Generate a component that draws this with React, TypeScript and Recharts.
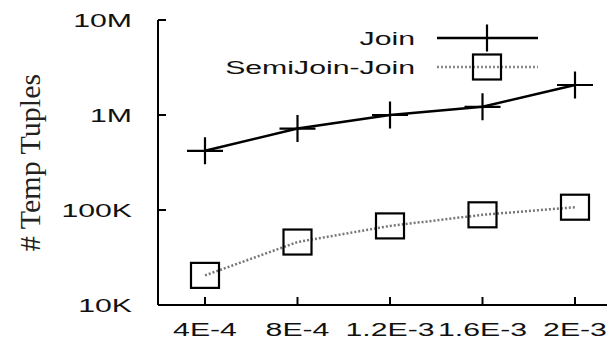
import { LineChart, Line, XAxis, YAxis } from "recharts";

// selectivity values on the x axis
const categories = ["4E-4", "8E-4", "1.2E-3", "1.6E-3", "2E-3"];
// # temp tuples
const joinValues = [420000, 720000, 1000000, 1220000, 2070000];
const semiJoinValues = [20500, 46000, 68000, 89000, 107000];
const yTicks = [10000, 100000, 1000000, 10000000];
const yTickLabels = ["10K", "100K", "1M", "10M"];
const seriesNames = ["Join", "SemiJoin-Join"];

const data = categories.map((c, i) => ({
  x: c,
  join: joinValues[i],
  semi: semiJoinValues[i],
}));

const FONT = "'Liberation Sans', Arial, Helvetica, sans-serif";
const STRETCH = 1.68; // the glyphs in the picture are wide, gnuplot style

function WideText({ x, y, anchor, children }: { x: number; y: number; anchor: "start" | "middle" | "end"; children: any }) {
  return (
    <text
      transform={`translate(${x},${y}) scale(${STRETCH},1)`}
      textAnchor={anchor}
      dominantBaseline="central"
      fontFamily={FONT}
      fontSize={18}
      fill="#111"
    >
      {children}
    </text>
  );
}

function PlusMark({ cx, cy }: { cx: number; cy: number }) {
  return (
    <g stroke="#000" strokeWidth={2.2}>
      <line x1={cx - 18} x2={cx + 18} y1={cy} y2={cy} />
      <line x1={cx} x2={cx} y1={cy - 13.5} y2={cy + 13.5} />
    </g>
  );
}

function BoxMark({ cx, cy }: { cx: number; cy: number }) {
  return <rect x={cx - 14} y={cy - 12.5} width={28} height={25} fill="none" stroke="#000" strokeWidth={2.2} />;
}

const XTick = ({ x, y, payload }: any) => <WideText x={x} y={y} anchor="middle">{payload.value}</WideText>;

const YTick = ({ x, y, payload }: any) => {
  const idx = yTicks.indexOf(payload.value);
  return <WideText x={x} y={y} anchor="end">{yTickLabels[idx]}</WideText>;
};

// key drawn as an overlay, top right inside the frame
function ChartLegend() {
  return (
    <svg width={400} height={64} style={{ position: "absolute", left: 152, top: 12, overflow: "visible" }}>
      <WideText x={255} y={18} anchor="end">{seriesNames[0]}</WideText>
      <line x1={277} x2={378} y1={18} y2={18} stroke="#000" strokeWidth={2.5} />
      <PlusMark cx={327} cy={18} />
      <WideText x={255} y={47} anchor="end">{seriesNames[1]}</WideText>
      <line x1={277} x2={378} y1={47} y2={47} stroke="#888" strokeWidth={2.5} strokeDasharray="2 2" />
      <BoxMark cx={327} cy={47} />
    </svg>
  );
}

export default function App() {
  return (
    <div style={{ position: "relative", width: 607, height: 333, overflow: "hidden" }}>
      <LineChart width={640} height={333} data={data} margin={{ top: 12, right: 27, bottom: 0, left: 0 }}>
        <XAxis
          dataKey="x"
          type="category"
          padding={{ left: 47, right: 46 }}
          height={36}
          axisLine={{ stroke: "#000", strokeWidth: 2 }}
          tickLine={{ stroke: "#000", strokeWidth: 2 }}
          tickSize={-8}
          tickMargin={32}
          tick={XTick}
          interval={0}
        />
        <XAxis
          xAxisId="top"
          dataKey="x"
          type="category"
          orientation="top"
          padding={{ left: 47, right: 46 }}
          height={0}
          axisLine={{ stroke: "#000", strokeWidth: 2 }}
          tickLine={{ stroke: "#000", strokeWidth: 2 }}
          tickSize={-8}
          tick={false}
          interval={0}
        />
        <YAxis
          type="number"
          scale="log"
          domain={[10000, 10000000]}
          ticks={yTicks}
          allowDataOverflow
          width={150}
          axisLine={{ stroke: "#000", strokeWidth: 2 }}
          tickLine={{ stroke: "#000", strokeWidth: 2 }}
          tickSize={-8}
          tickMargin={34}
          tick={YTick}
          interval={0}
          label={{
            content: ({ viewBox }: any) => (
              <text
                transform={`translate(${viewBox.x + 21},${viewBox.y + viewBox.height / 2}) rotate(-90)`}
                textAnchor="middle"
                dominantBaseline="central"
                fontFamily="'Liberation Serif', 'Times New Roman', serif"
                fontSize={30}
                fill="#222"
              >
                # Temp Tuples
              </text>
            ),
          }}
        />
        <YAxis
          yAxisId="right"
          orientation="right"
          type="number"
          scale="log"
          domain={[10000, 10000000]}
          ticks={yTicks}
          allowDataOverflow
          width={0}
          axisLine={{ stroke: "#000", strokeWidth: 2 }}
          tickLine={{ stroke: "#000", strokeWidth: 2 }}
          tickSize={-8}
          tick={false}
          interval={0}
        />
        <Line
          type="linear"
          dataKey="join"
          name={seriesNames[0]}
          stroke="#000"
          strokeWidth={2.5}
          isAnimationActive={false}
          activeDot={false}
          dot={(p: any) => <PlusMark key={`j${p.index}`} cx={p.cx} cy={p.cy} />}
        />
        <Line
          type="linear"
          dataKey="semi"
          name={seriesNames[1]}
          stroke="#777"
          strokeWidth={2.5}
          strokeDasharray="2 2"
          isAnimationActive={false}
          activeDot={false}
          dot={(p: any) => <BoxMark key={`s${p.index}`} cx={p.cx} cy={p.cy} />}
        />
      </LineChart>
      <ChartLegend />
    </div>
  );
}
